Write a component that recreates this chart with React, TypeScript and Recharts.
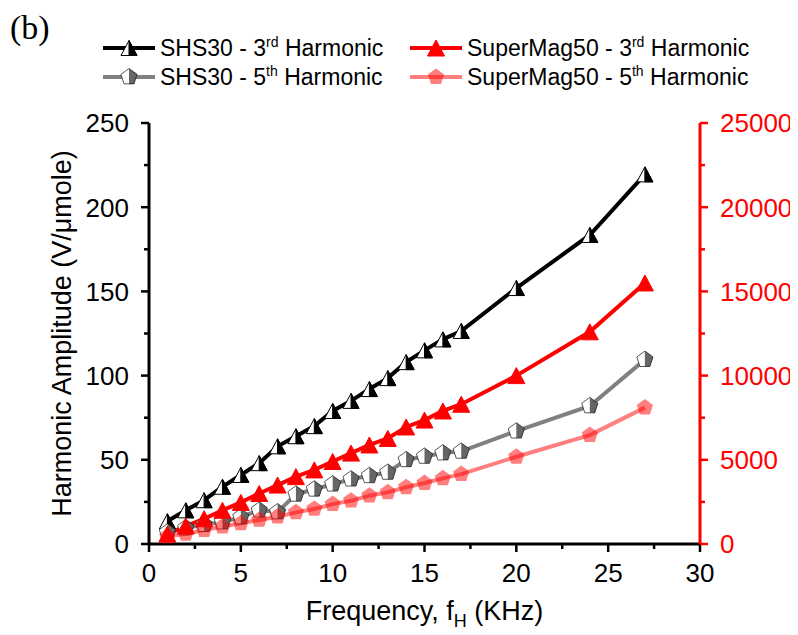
import React from 'react';
import { LineChart, Line, XAxis, YAxis } from 'recharts';

// ---------- data ----------
const frequencyKHz = [1, 2, 3, 4, 5, 6, 7, 8, 9, 10, 11, 12, 13, 14, 15, 16, 17, 20, 24, 27];
const shs30Third = [13.5, 20, 26, 34, 41, 48, 58, 64, 70, 79, 85, 92, 98.5, 108, 115, 121.5, 126.5, 152, 183.5, 219.5];
const shs30Fifth = [7, 9.5, 11.5, 13, 16, 20, 19, 29.5, 32.5, 35.5, 38.5, 40.5, 42.5, 50, 52, 54, 55, 67, 82, 109.5];
const superMag50Third = [590, 1070, 1500, 2000, 2470, 3000, 3500, 4000, 4400, 4900, 5400, 5880, 6270, 6950, 7360, 7900, 8300, 10000, 12600, 15500];
const superMag50Fifth = [440, 600, 830, 1030, 1230, 1430, 1620, 1880, 2080, 2370, 2570, 2870, 3070, 3370, 3620, 3900, 4150, 5180, 6470, 8100];

const xMajorTicks = [0, 5, 10, 15, 20, 25, 30];
const xMinorTicks = [2.5, 7.5, 12.5, 17.5, 22.5, 27.5];
const leftMajorTicks = [0, 50, 100, 150, 200, 250];
const leftMinorTicks = [25, 75, 125, 175, 225];
const rightMajorTicks = [0, 5000, 10000, 15000, 20000, 25000];
const rightMinorTicks = [2500, 7500, 12500, 17500, 22500];

const data = frequencyKHz.map((f, i) => ({
  f,
  shs3: shs30Third[i],
  shs5: shs30Fifth[i],
  sm3: superMag50Third[i],
  sm5: superMag50Fifth[i],
}));

// ---------- styling ----------
const FONT = '"Liberation Sans", Arial, Helvetica, sans-serif';
const TS = 8;
const TM = 12;
const RED = '#ff0000';
const PINK = 'rgba(255,0,0,0.5)';

// ---------- markers ----------
function HalfTriangle({ cx, cy }: { cx: number; cy: number }) {
  const w = 16, h = 15;
  const apex = [cx, cy - h / 2];
  const bl = [cx - w / 2, cy + h / 2];
  const br = [cx + w / 2, cy + h / 2];
  const bm = [cx, cy + h / 2];
  const p = (a: number[][]) => a.map((q) => q.join(',')).join(' ');
  return (
    <g>
      <polygon points={p([apex, bl, br])} fill="#fff" stroke="#000" strokeWidth={1} />
      <polygon points={p([apex, br, bm])} fill="#000" stroke="#000" strokeWidth={1} />
    </g>
  );
}

function FullTriangle({ cx, cy }: { cx: number; cy: number }) {
  const w = 17, h = 16;
  const pts = `${cx},${cy - h / 2} ${cx - w / 2},${cy + h / 2} ${cx + w / 2},${cy + h / 2}`;
  return <polygon points={pts} fill={RED} stroke={RED} strokeWidth={1} />;
}

function pentPts(cx: number, cy: number, r: number) {
  const pts: number[][] = [];
  for (let k = 0; k < 5; k++) {
    const a = ((-90 + k * 72) * Math.PI) / 180;
    pts.push([cx + r * Math.cos(a), cy + r * Math.sin(a)]);
  }
  return pts;
}

function HalfPentagon({ cx, cy }: { cx: number; cy: number }) {
  const r = 8.5;
  const pts = pentPts(cx, cy, r);
  const full = pts.map((q) => q.join(',')).join(' ');
  const right = [pts[0], pts[1], pts[2], [cx, pts[2][1]]].map((q) => q.join(',')).join(' ');
  return (
    <g>
      <polygon points={full} fill="#fff" stroke="rgba(0,0,0,0.65)" strokeWidth={1} />
      <polygon points={right} fill="rgba(0,0,0,0.6)" stroke="none" />
    </g>
  );
}

function PinkPentagon({ cx, cy }: { cx: number; cy: number }) {
  const pts = pentPts(cx, cy, 8.5).map((q) => q.join(',')).join(' ');
  return <polygon points={pts} fill={PINK} stroke="none" />;
}

const dotRenderer = (Comp: any) => (props: any) => {
  const { cx, cy, index } = props;
  if (cx == null || cy == null) return <g key={`n-${index}`} />;
  return <Comp key={`d-${index}`} cx={cx} cy={cy} />;
};

// ---------- ticks ----------
function BottomTick(props: any) {
  const { x, y, payload } = props;
  const v = payload.value;
  const major = xMajorTicks.includes(v);
  const ay = y - TM - TS;
  return (
    <g>
      <line x1={x} x2={x} y1={ay} y2={ay + (major ? 8 : 5)} stroke="#000" strokeWidth={2.5} />
      {major && (
        <text x={x} y={y} dy="0.71em" textAnchor="middle" fontSize={26} fontFamily={FONT} fill="#000">
          {v}
        </text>
      )}
    </g>
  );
}

function LeftTick(props: any) {
  const { x, y, payload } = props;
  const v = payload.value;
  const major = leftMajorTicks.includes(v);
  const ax = x + TM + TS;
  return (
    <g>
      <line x1={ax - (major ? 8 : 5)} x2={ax} y1={y} y2={y} stroke="#000" strokeWidth={2.5} />
      {major && (
        <text x={x} y={y} dy="0.36em" textAnchor="end" fontSize={26} fontFamily={FONT} fill="#000">
          {v}
        </text>
      )}
    </g>
  );
}

function RightTick(props: any) {
  const { x, y, payload } = props;
  const v = payload.value;
  const major = rightMajorTicks.includes(v);
  const ax = x - TM - TS;
  return (
    <g>
      <line x1={ax} x2={ax + (major ? 8 : 5)} y1={y} y2={y} stroke={RED} strokeWidth={2.5} />
      {major && (
        <text x={x} y={y} dy="0.36em" textAnchor="start" fontSize={26} fontFamily={FONT} fill={RED}>
          {v}
        </text>
      )}
    </g>
  );
}

// ---------- axis titles ----------
const yTitle = (p: any) => {
  const vb = p && p.viewBox ? p.viewBox : { x: 0, y: 115, width: 141, height: 421 };
  const cx = vb.x + 54;
  const cy = vb.y + vb.height / 2;
  return (
    <text
      x={cx}
      y={cy}
      transform={`rotate(-90, ${cx}, ${cy})`}
      textAnchor="middle"
      dominantBaseline="central"
      fontSize={27}
      fontFamily={FONT}
      fill="#000"
    >
      Harmonic Amplitude (V/μmole)
    </text>
  );
};

const xTitle = (p: any) => {
  const vb = p && p.viewBox ? p.viewBox : { x: 141, y: 536, width: 551, height: 91 };
  const cx = vb.x + vb.width / 2;
  const by = vb.y + 76;
  return (
    <text x={cx} y={by} textAnchor="middle" fontSize={27} fontFamily={FONT} fill="#000">
      Frequency, f
      <tspan fontSize={18} dy={7}>H</tspan>
      <tspan dy={-7}> (KHz)</tspan>
    </text>
  );
};

// ---------- legend ----------
type LegendDef = { name: string; sup: string; rest: string; stroke: string; marker: any; left: number; top: number };
const legendItems: LegendDef[] = [
  { name: 'SHS30 - 3', sup: 'rd', rest: ' Harmonic', stroke: '#000', marker: HalfTriangle, left: 95, top: 40 },
  { name: 'SuperMag50 - 3', sup: 'rd', rest: ' Harmonic', stroke: RED, marker: FullTriangle, left: 402, top: 40 },
  { name: 'SHS30 - 5', sup: 'th', rest: ' Harmonic', stroke: '#808080', marker: HalfPentagon, left: 95, top: 69 },
  { name: 'SuperMag50 - 5', sup: 'th', rest: ' Harmonic', stroke: PINK, marker: PinkPentagon, left: 402, top: 69 },
];

function LegendEntry({ item }: { item: LegendDef }) {
  const M = item.marker;
  return (
    <>
      <svg
        width={52}
        height={20}
        style={{ position: 'absolute', left: item.left, top: item.top - 10, overflow: 'visible' }}
      >
        <line x1={0} x2={52} y1={10} y2={10} stroke={item.stroke} strokeWidth={4} />
        <M cx={26} cy={10} />
      </svg>
      <div
        style={{
          position: 'absolute',
          left: item.left + 57,
          top: item.top - 11.5,
          fontFamily: FONT,
          fontSize: 23,
          lineHeight: '23px',
          whiteSpace: 'nowrap',
          color: '#000',
        }}
      >
        {item.name}
        <sup style={{ fontSize: 14, verticalAlign: 'baseline', position: 'relative', top: -9 }}>{item.sup}</sup>
        {item.rest}
      </div>
    </>
  );
}

export default function App() {
  return (
    <div style={{ position: 'relative', width: 790, height: 627, background: '#fff' }}>
      <LineChart width={790} height={627} data={data} margin={{ top: 115, right: 0, bottom: 0, left: 0 }}>
        <XAxis
          dataKey="f"
          type="number"
          domain={[0, 30]}
          ticks={[...xMajorTicks, ...xMinorTicks]}
          interval={0}
          height={91}
          tickSize={TS}
          tickMargin={TM}
          tickLine={false}
          tick={<BottomTick />}
          axisLine={{ stroke: '#000', strokeWidth: 3 }}
          allowDataOverflow
          label={xTitle}
        />
        <YAxis
          yAxisId="left"
          orientation="left"
          type="number"
          domain={[0, 250]}
          ticks={[...leftMajorTicks, ...leftMinorTicks]}
          interval={0}
          width={141}
          tickSize={TS}
          tickMargin={TM}
          tickLine={false}
          tick={<LeftTick />}
          axisLine={{ stroke: '#000', strokeWidth: 3 }}
          allowDataOverflow
          label={yTitle}
        />
        <YAxis
          yAxisId="right"
          orientation="right"
          type="number"
          domain={[0, 25000]}
          ticks={[...rightMajorTicks, ...rightMinorTicks]}
          interval={0}
          width={98}
          tickSize={TS}
          tickMargin={TM}
          tickLine={false}
          tick={<RightTick />}
          axisLine={{ stroke: RED, strokeWidth: 3 }}
          allowDataOverflow
        />
        <Line
          yAxisId="left"
          type="linear"
          dataKey="shs3"
          stroke="#000"
          strokeWidth={4}
          dot={dotRenderer(HalfTriangle)}
          activeDot={false}
          isAnimationActive={false}
        />
        <Line
          yAxisId="left"
          type="linear"
          dataKey="shs5"
          stroke="#808080"
          strokeWidth={4}
          dot={dotRenderer(HalfPentagon)}
          activeDot={false}
          isAnimationActive={false}
        />
        <Line
          yAxisId="right"
          type="linear"
          dataKey="sm3"
          stroke={RED}
          strokeWidth={4}
          dot={dotRenderer(FullTriangle)}
          activeDot={false}
          isAnimationActive={false}
        />
        <Line
          yAxisId="right"
          type="linear"
          dataKey="sm5"
          stroke={PINK}
          strokeWidth={4}
          dot={dotRenderer(PinkPentagon)}
          activeDot={false}
          isAnimationActive={false}
        />
      </LineChart>
      <div
        style={{
          position: 'absolute',
          left: 2,
          top: 3,
          fontFamily: '"Liberation Serif", "Times New Roman", serif',
          fontSize: 34,
          lineHeight: 1,
          color: '#000',
        }}
      >
        (b)
      </div>
      {legendItems.map((it) => (
        <LegendEntry key={it.name} item={it} />
      ))}
    </div>
  );
}
